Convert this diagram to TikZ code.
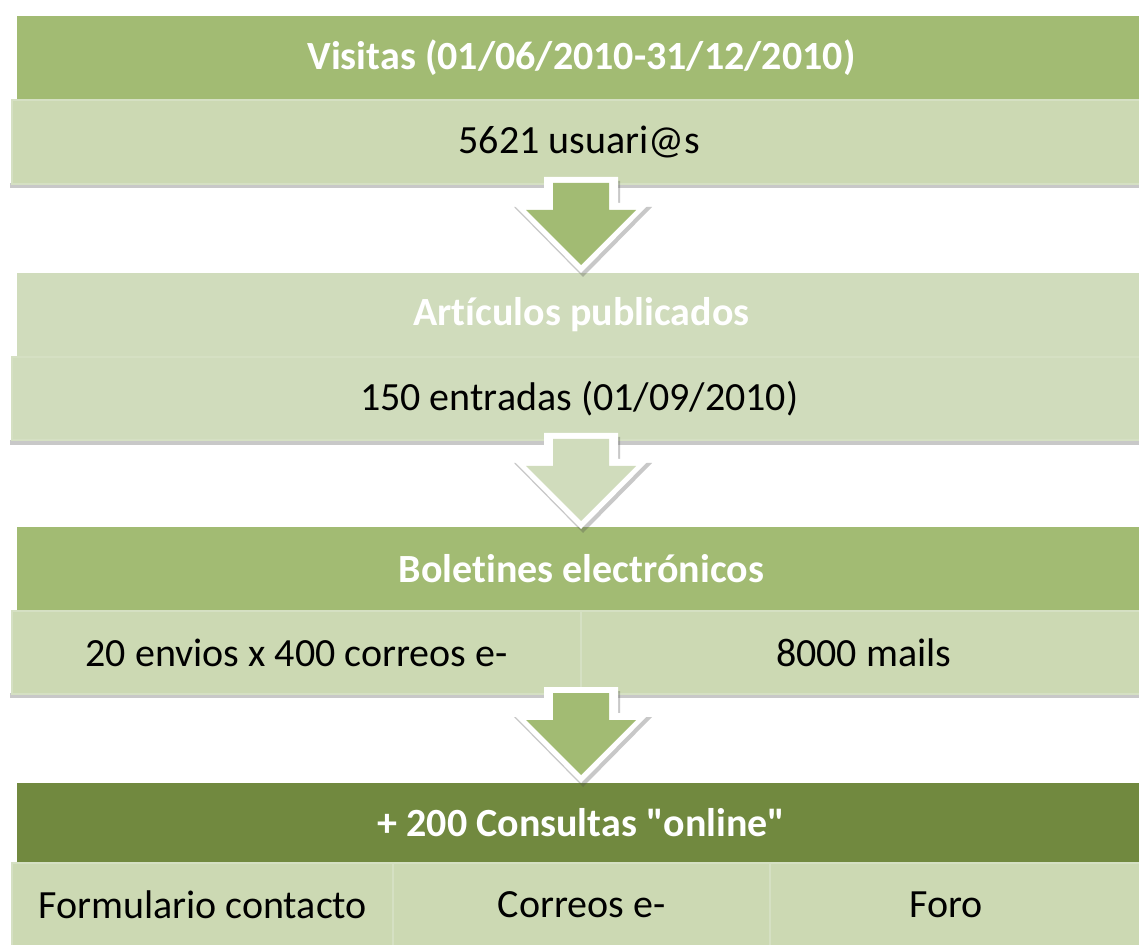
\documentclass[tikz,border=0pt]{standalone}
\usepackage{fontspec}
\setmainfont{Carlito}[Ligatures=NoCommon]
\usetikzlibrary{shadows}

\definecolor{hdrgreen}{HTML}{A2BB73}
\definecolor{hdrdark}{HTML}{71893F}
\definecolor{hdrpale}{HTML}{D0DCBC}
\definecolor{celllight}{HTML}{CCD9B3}
\definecolor{cellrim}{HTML}{D5E0C3}

\tikzset{
  panel/.style={fill=white, drop shadow={shadow xshift=0.5pt, shadow yshift=-2.5pt, opacity=.3, fill=black!70}},
  hdr/.style={anchor=north west, inner sep=0pt, minimum height=41.5pt, text=white,
    font=\fontsize{20}{24}\selectfont\bfseries},
  cell/.style={anchor=north west, inner sep=0pt, minimum height=41.5pt, fill=celllight,
    draw=cellrim, line width=1.2pt, font=\fontsize{20}{24}\selectfont},
  pics/flowdown/.style={code={
    \fill[white, drop shadow={shadow xshift=1pt, shadow yshift=-2pt, opacity=.3, fill=black!70}]
      (-37,-6) -- (-37,20) -- (-69,20) -- (0,90) -- (69,20) -- (37,20) -- (37,-6) -- cycle;
    \fill[#1] (-28,0) -- (-28,27) -- (-55,27) -- (0,82) -- (55,27) -- (28,27) -- (28,0) -- cycle;
  }}
}

\begin{document}
\begin{tikzpicture}[x=0.5pt,y=-0.5pt]
\useasboundingbox[fill=white] (0,0) rectangle (1139,945);

% visitas
\fill[panel] (9,8) rectangle (1160,183);
\node[hdr, fill=hdrgreen, minimum width=564pt] (visitas) at (17,16) {Visitas (01/06/2010-31/12/2010)};
\node[cell, minimum width=567pt, minimum height=42pt] (usuarios) at (11,99) {5621 usuari@s};

% articulos
\fill[panel] (9,265) rectangle (1160,440);
\node[hdr, fill=hdrpale, minimum width=564pt] (articulos) at (17,273) {Artículos publicados};
\node[cell, fill=hdrpale, minimum width=567pt] (entradas) at (11,356) {150 entradas (01/09/2010)};

% boletines
\fill[panel] (9,520) rectangle (1160,693);
\node[hdr, fill=hdrgreen, minimum width=564pt] (boletines) at (17,527) {Boletines electrónicos};
\node[cell, minimum width=284.5pt] (envios) at (11,610) {20 envios x 400 correos e-};
\node[cell, minimum width=282.5pt] (mails) at (580,610) {8000 mails};

% consultas
\fill[panel] (9,775) rectangle (1160,960);
\node[hdr, fill=hdrdark, minimum width=564pt, minimum height=39.5pt] (consultas) at (17,783) {+ 200 Consultas \textquotedbl online\textquotedbl};
\node[cell, minimum width=190.5pt] (formulario) at (11,862) {Formulario contacto};
\node[cell, minimum width=188.5pt] (correos) at (392,862) {Correos e-};
\node[cell, minimum width=188pt] (foro) at (769,862) {Foro\hspace*{12pt}};

% flechas
\pic at (581,183) {flowdown=hdrgreen};
\pic at (581,439) {flowdown=hdrpale};
\pic at (581,693) {flowdown=hdrgreen};
\end{tikzpicture}
\end{document}
